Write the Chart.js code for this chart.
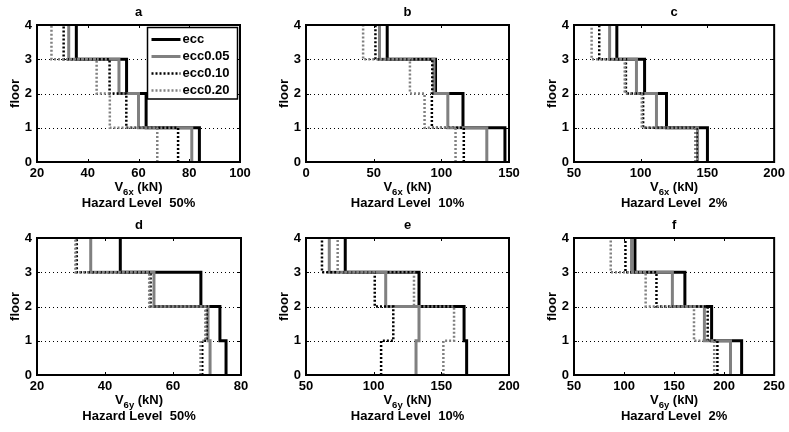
<!DOCTYPE html>
<html>
<head>
<meta charset="utf-8">
<script src="https://cdn.jsdelivr.net/npm/chart.js@4.4.1/dist/chart.umd.min.js"></script>
<style>
body { margin: 0; background: #fff; width: 789px; height: 432px; overflow: hidden; position: relative; }
canvas { position: absolute; }
</style>
</head>
<body>
<canvas id="pa" width="263" height="216" style="left:0px;top:0px"></canvas>
<canvas id="pb" width="263" height="216" style="left:269px;top:0px"></canvas>
<canvas id="pc" width="252" height="216" style="left:537px;top:0px"></canvas>
<canvas id="pd" width="263" height="216" style="left:0px;top:213px"></canvas>
<canvas id="pe" width="263" height="216" style="left:269px;top:213px"></canvas>
<canvas id="pf" width="252" height="216" style="left:537px;top:213px"></canvas>
<script>
// floors 0..4, story shear values listed story 1 (bottom) to story 4 (top)
const floors = [0, 1, 2, 3, 4];
const seriesNames = ['ecc', 'ecc0.05', 'ecc0.10', 'ecc0.20'];

// a: V6x, hazard 50%
const vx50_ecc = [84, 63, 55.3, 35.5];
const vx50_ecc005 = [81, 60, 52.3, 32.5];
const vx50_ecc010 = [75.6, 55.2, 48.6, 30.5];
const vx50_ecc020 = [67.4, 48.7, 43.5, 25.7];
// b: V6x, hazard 10%
const vx10_ecc = [147, 116, 95.7, 60];
const vx10_ecc005 = [133.6, 104.8, 94.5, 54.3];
const vx10_ecc010 = [116.6, 93, 93.3, 51.3];
const vx10_ecc020 = [110.5, 87.6, 76.8, 42.2];
// c: V6x, hazard 2%
const vx2_ecc = [150, 119.3, 102.9, 82.1];
const vx2_ecc005 = [142.6, 111.8, 96.8, 76.7];
const vx2_ecc010 = [141.8, 101.8, 88.9, 68.9];
const vx2_ecc020 = [140.9, 100.8, 88, 63.2];
// d: V6y, hazard 50%
const vy50_ecc = [75.6, 73.8, 68.2, 44.5];
const vy50_ecc005 = [70.9, 70.3, 54.4, 35.8];
const vy50_ecc010 = [68.6, 69.9, 53.4, 31.7];
const vy50_ecc020 = [68.1, 69.5, 53, 31.3];
// e: V6y, hazard 10%
const vy10_ecc = [168.7, 166.8, 133.5, 79];
const vy10_ecc005 = [131.3, 133.5, 108.9, 67.2];
const vy10_ecc010 = [105.5, 114.5, 100.8, 61.8];
const vy10_ecc020 = [151.5, 159.4, 129.8, 73.4];
// f: V6y, hazard 2%
const vy2_ecc = [217.5, 187.5, 160.8, 110.9];
const vy2_ecc005 = [206.4, 180.3, 148.3, 107.5];
const vy2_ecc010 = [193.3, 183.6, 132.4, 101.4];
const vy2_ecc020 = [190.1, 169.9, 121.6, 86.7];

// x tick labels per panel
const xticks_a = [20, 40, 60, 80, 100];
const xticks_b = [0, 50, 100, 150];
const xticks_c = [50, 100, 150, 200];
const xticks_d = [20, 40, 60, 80];
const xticks_e = [50, 100, 150, 200];
const xticks_f = [50, 100, 150, 200, 250];
const yticks = [0, 1, 2, 3, 4];

const FONT = '"Liberation Sans", Arial, Helvetica, sans-serif';
const FS = 13;

const lineStyles = [
    { borderColor: '#000000', borderWidth: 3, borderDash: [] },
    { borderColor: '#808080', borderWidth: 3, borderDash: [] },
    { borderColor: '#000000', borderWidth: 2.5, borderDash: [2, 2] },
    { borderColor: '#808080', borderWidth: 2.5, borderDash: [2, 2] }
];

// stairs: vertical run at each story value, horizontal jump at each floor
function stairs(v) {
    const pts = [];
    v.forEach((val, i) => {
        pts.push({ x: val, y: floors[i] });
        pts.push({ x: val, y: floors[i + 1] });
    });
    return pts;
}

const deco = {
    id: 'deco',
    beforeDatasetsDraw(chart) {
        const { ctx, chartArea: ca, scales: { y } } = chart;
        ctx.save();
        ctx.strokeStyle = '#000';
        ctx.lineWidth = 1;
        ctx.setLineDash([1, 3]);
        yticks.forEach(t => {
            if (t > yticks[0] && t < yticks[yticks.length - 1]) {
                const py = Math.round(y.getPixelForValue(t)) + 0.5;
                ctx.beginPath();
                ctx.moveTo(ca.left, py);
                ctx.lineTo(ca.right, py);
                ctx.stroke();
            }
        });
        ctx.restore();
    },
    afterDraw(chart, args, o) {
        const { ctx, chartArea: ca, scales: { x, y } } = chart;
        ctx.save();
        // inner tick marks
        ctx.strokeStyle = '#000';
        ctx.lineWidth = 1;
        x.ticks.forEach(t => {
            const px = Math.round(x.getPixelForValue(t.value)) + 0.5;
            ctx.beginPath();
            ctx.moveTo(px, ca.bottom); ctx.lineTo(px, ca.bottom - 3);
            ctx.moveTo(px, ca.top); ctx.lineTo(px, ca.top + 3);
            ctx.stroke();
        });
        y.ticks.forEach(t => {
            const py = Math.round(y.getPixelForValue(t.value)) + 0.5;
            ctx.beginPath();
            ctx.moveTo(ca.left, py); ctx.lineTo(ca.left + 3, py);
            ctx.moveTo(ca.right, py); ctx.lineTo(ca.right - 3, py);
            ctx.stroke();
        });
        // axes box
        ctx.lineWidth = 2;
        ctx.strokeRect(ca.left, ca.top, ca.right - ca.left, ca.bottom - ca.top);

        const cx = (ca.left + ca.right) / 2;
        ctx.fillStyle = '#000';
        ctx.textAlign = 'center';
        ctx.textBaseline = 'middle';
        ctx.font = 'bold ' + FS + 'px ' + FONT;
        ctx.fillText(o.title, cx, ca.top - 13);
        ctx.fillText(o.hazard, cx, ca.bottom + 41);

        // x label with subscript
        const big = 'bold ' + FS + 'px ' + FONT;
        const small = 'bold 9.5px ' + FONT;
        ctx.textAlign = 'left';
        ctx.font = big; const wV = ctx.measureText('V').width;
        ctx.font = small; const wS = ctx.measureText(o.sub).width;
        ctx.font = big; const wU = ctx.measureText(' (kN)').width;
        let lx = cx - (wV + wS + wU) / 2;
        const ly = ca.bottom + 25;
        ctx.fillText('V', lx, ly); lx += wV;
        ctx.font = small; ctx.fillText(o.sub, lx, ly + 5); lx += wS;
        ctx.font = big; ctx.fillText(' (kN)', lx, ly);

        // y label
        ctx.save();
        ctx.translate(ca.left - 22, (ca.top + ca.bottom) / 2);
        ctx.rotate(-Math.PI / 2);
        ctx.textAlign = 'center';
        ctx.fillText('floor', 0, 0);
        ctx.restore();

        if (o.legend) {
            const bl = ca.right - 92.5, bt = ca.top + 2.5, bw = 90, bh = 71.5;
            ctx.fillStyle = '#fff';
            ctx.fillRect(bl, bt, bw, bh);
            ctx.strokeStyle = '#000';
            ctx.lineWidth = 1.5;
            ctx.strokeRect(bl, bt, bw, bh);
            chart.data.datasets.forEach((ds, i) => {
                const ey = bt + 12 + i * 17;
                ctx.strokeStyle = ds.borderColor;
                ctx.lineWidth = ds.borderWidth;
                ctx.setLineDash(ds.borderDash);
                ctx.beginPath();
                ctx.moveTo(bl + 4, ey); ctx.lineTo(bl + 33, ey);
                ctx.stroke();
                ctx.setLineDash([]);
                ctx.fillStyle = '#000';
                ctx.font = 'bold 13px ' + FONT;
                ctx.textAlign = 'left';
                ctx.fillText(ds.label, bl + 35, ey);
            });
        }
        ctx.restore();
    }
};

function makePanel(canvasId, series, xt, title, sub, hazard, plotWidth, legend) {
    const canvas = document.getElementById(canvasId);
    const padRight = canvas.width - 37 - plotWidth;
    const datasets = series.map((v, i) => ({
        label: seriesNames[i],
        data: stairs(v),
        showLine: true,
        fill: false,
        tension: 0,
        pointRadius: 0,
        borderColor: lineStyles[i].borderColor,
        borderWidth: lineStyles[i].borderWidth,
        borderDash: lineStyles[i].borderDash,
        order: series.length - 1 - i
    }));
    return new Chart(canvas, {
        type: 'scatter',
        data: { datasets: datasets },
        options: {
            responsive: false,
            animation: false,
            devicePixelRatio: 1,
            events: [],
            layout: { padding: { left: 0, right: padRight, top: 25, bottom: 0 } },
            plugins: {
                legend: { display: false },
                tooltip: { enabled: false },
                deco: { title: title, sub: sub, hazard: hazard, legend: legend }
            },
            scales: {
                x: {
                    type: 'linear',
                    min: xt[0],
                    max: xt[xt.length - 1],
                    afterBuildTicks: s => { s.ticks = xt.map(v => ({ value: v })); },
                    afterFit: s => { s.height = 54; },
                    grid: { display: false, drawTicks: false },
                    border: { display: false },
                    ticks: { color: '#000', font: { family: FONT, size: FS, weight: 'bold' }, padding: 4, maxRotation: 0, autoSkip: false }
                },
                y: {
                    type: 'linear',
                    min: yticks[0],
                    max: yticks[yticks.length - 1],
                    afterBuildTicks: s => { s.ticks = yticks.map(v => ({ value: v })); },
                    afterFit: s => { s.width = 37; },
                    grid: { display: false, drawTicks: false },
                    border: { display: false },
                    ticks: { color: '#000', font: { family: FONT, size: FS, weight: 'bold' }, padding: 5 }
                }
            }
        },
        plugins: [deco]
    });
}

makePanel('pa', [vx50_ecc, vx50_ecc005, vx50_ecc010, vx50_ecc020], xticks_a, 'a', '6x', 'Hazard Level  50%', 203, true);
makePanel('pb', [vx10_ecc, vx10_ecc005, vx10_ecc010, vx10_ecc020], xticks_b, 'b', '6x', 'Hazard Level  10%', 203, false);
makePanel('pc', [vx2_ecc, vx2_ecc005, vx2_ecc010, vx2_ecc020], xticks_c, 'c', '6x', 'Hazard Level  2%', 204, false);
makePanel('pd', [vy50_ecc, vy50_ecc005, vy50_ecc010, vy50_ecc020], xticks_d, 'd', '6y', 'Hazard Level  50%', 204, false);
makePanel('pe', [vy10_ecc, vy10_ecc005, vy10_ecc010, vy10_ecc020], xticks_e, 'e', '6y', 'Hazard Level  10%', 203, false);
makePanel('pf', [vy2_ecc, vy2_ecc005, vy2_ecc010, vy2_ecc020], xticks_f, 'f', '6y', 'Hazard Level  2%', 204, false);
</script>
</body>
</html>
